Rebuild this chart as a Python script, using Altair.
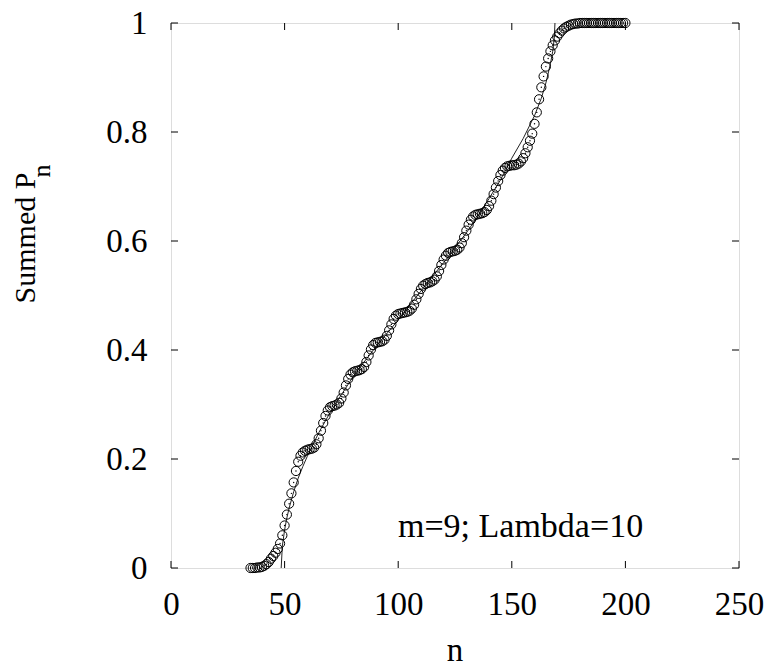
import altair as alt
import pandas as pd

# ---- data ----
n_vals = list(range(35, 201))
p_vals = [
    0.000, 0.000, 0.000, 0.001, 0.001, 0.002, 0.004, 0.007, 0.011, 0.017,   # 35-44
    0.022, 0.028, 0.035, 0.045, 0.060, 0.078, 0.098, 0.118, 0.137, 0.157,   # 45-54
    0.178, 0.195, 0.206, 0.212, 0.215, 0.217, 0.218, 0.219, 0.221, 0.227,   # 55-64
    0.238, 0.252, 0.266, 0.279, 0.289, 0.295, 0.297, 0.298, 0.300, 0.303,   # 65-74
    0.311, 0.322, 0.335, 0.347, 0.355, 0.359, 0.361, 0.362, 0.363, 0.365,   # 75-84
    0.369, 0.378, 0.390, 0.401, 0.409, 0.413, 0.414, 0.415, 0.416, 0.419,   # 85-94
    0.426, 0.436, 0.447, 0.457, 0.463, 0.466, 0.467, 0.468, 0.469, 0.470,   # 95-104
    0.472, 0.476, 0.483, 0.493, 0.503, 0.512, 0.518, 0.521, 0.523, 0.524,   # 105-114
    0.526, 0.529, 0.535, 0.545, 0.556, 0.566, 0.573, 0.578, 0.580, 0.581,   # 115-124
    0.582, 0.584, 0.588, 0.596, 0.607, 0.619, 0.630, 0.639, 0.645, 0.648,   # 125-134
    0.649, 0.650, 0.651, 0.653, 0.657, 0.664, 0.674, 0.686, 0.698, 0.710,   # 135-144
    0.721, 0.729, 0.734, 0.737, 0.738, 0.739, 0.739, 0.740, 0.742, 0.746,   # 145-154
    0.752, 0.761, 0.772, 0.784, 0.797, 0.815, 0.836, 0.860, 0.882, 0.902,   # 155-164
    0.920, 0.935, 0.948, 0.959, 0.968, 0.975, 0.981, 0.986, 0.990, 0.993,   # 165-174
    0.995, 0.997, 0.998, 0.999, 0.999, 1.000, 1.000, 1.000, 1.000, 1.000,   # 175-184
    1.000, 1.000, 1.000, 1.000, 1.000, 1.000, 1.000, 1.000, 1.000, 1.000,   # 185-194
    1.000, 1.000, 1.000, 1.000, 1.000, 1.000,                               # 195-200
]

line_n = [48.5, 49, 50, 51, 52, 54, 56, 58, 60, 65, 70, 75, 80, 85, 90, 95, 100,
          105, 110, 115, 120, 125, 130, 135, 140, 145, 150, 155, 160, 163, 165,
          167, 168, 168.7, 169]
line_p = [0.0, 0.04, 0.07, 0.092, 0.11, 0.14, 0.165, 0.186, 0.205, 0.248, 0.285,
          0.318, 0.35, 0.378, 0.405, 0.43, 0.455, 0.482, 0.508, 0.535, 0.56, 0.588,
          0.615, 0.645, 0.678, 0.712, 0.752, 0.788, 0.83, 0.862, 0.89, 0.925, 0.948,
          0.972, 1.0]

x_ticks = [0, 50, 100, 150, 200, 250]
y_ticks = [0, 0.2, 0.4, 0.6, 0.8, 1.0]

y_title_main = ["Summed P"]
y_title_sub = ["n"]
x_title = ["n"]
annotation = ["m=9; Lambda=10"]

FONT = "Liberation Serif"
W, H = 568, 545

pts = pd.DataFrame({"n": n_vals, "p": p_vals})
ln = pd.DataFrame({"n": line_n, "p": line_p})
xt = pd.DataFrame({"t": x_ticks})
yt = pd.DataFrame({"v": y_ticks})

xscale = alt.Scale(domain=[0, 250], nice=False, zero=False)
yscale = alt.Scale(domain=[0, 1], nice=False, zero=False)

xaxis = alt.Axis(values=x_ticks, title=None, grid=False, domain=False, ticks=False,
                 labelFont=FONT, labelFontSize=33, labelColor="black", labelPadding=20,
                 labelFlush=False)
yaxis = alt.Axis(values=y_ticks, title=None, grid=False, domain=False, ticks=False,
                 labelFont=FONT, labelFontSize=33, labelColor="black", labelPadding=24,
                 format=".1~f", labelFlush=False)

base_line = alt.Chart(ln).mark_line(color="#222222", strokeWidth=1).encode(
    x=alt.X("n:Q", scale=xscale, axis=xaxis),
    y=alt.Y("p:Q", scale=yscale, axis=yaxis),
)

circles = alt.Chart(pts).mark_point(shape="circle", filled=False, color="black",
                                    size=85, strokeWidth=1, opacity=1).encode(
    x=alt.X("n:Q", scale=xscale),
    y=alt.Y("p:Q", scale=yscale),
)
dots = alt.Chart(pts).mark_point(shape="circle", filled=True, color="black",
                                 size=2, opacity=1).encode(
    x=alt.X("n:Q", scale=xscale),
    y=alt.Y("p:Q", scale=yscale),
)

TL = 7
xt_bot = alt.Chart(xt).mark_rule(color="black", strokeWidth=1).encode(
    x=alt.X("t:Q", scale=xscale), y=alt.value(H), y2=alt.value(H - TL))
xt_top = alt.Chart(xt).mark_rule(color="black", strokeWidth=1).encode(
    x=alt.X("t:Q", scale=xscale), y=alt.value(0), y2=alt.value(TL))
yt_left = alt.Chart(yt).mark_rule(color="black", strokeWidth=1).encode(
    y=alt.Y("v:Q", scale=yscale), x=alt.value(0), x2=alt.value(TL))
yt_right = alt.Chart(yt).mark_rule(color="black", strokeWidth=1).encode(
    y=alt.Y("v:Q", scale=yscale), x=alt.value(W), x2=alt.value(W - TL))

ytitle = alt.Chart(pd.DataFrame({"s": y_title_main})).mark_text(
    font=FONT, fontSize=30, angle=270, align="center", baseline="alphabetic",
    color="black").encode(text="s:N", x=alt.value(-136), y=alt.value(215))
ysub = alt.Chart(pd.DataFrame({"s": y_title_sub})).mark_text(
    font=FONT, fontSize=26, angle=270, align="center", baseline="alphabetic",
    color="black").encode(text="s:N", x=alt.value(-121), y=alt.value(148))
xtitle = alt.Chart(pd.DataFrame({"s": x_title})).mark_text(
    font=FONT, fontSize=33, align="center", baseline="alphabetic",
    color="black").encode(text="s:N", x=alt.value(284), y=alt.value(638))
annot = alt.Chart(pd.DataFrame({"s": annotation})).mark_text(
    font=FONT, fontSize=34, align="left", baseline="alphabetic",
    color="black").encode(text="s:N", x=alt.value(227), y=alt.value(514))

chart = alt.layer(
    base_line, circles, dots, xt_bot, xt_top, yt_left, yt_right,
    ytitle, ysub, xtitle, annot
).properties(
    width=W, height=H,
    autosize=alt.AutoSizeParams(type="none"),
    padding={"left": 171, "top": 23, "right": 34, "bottom": 103},
).configure_view(stroke="black", strokeWidth=1.5).configure(background="white")

chart.save("out.html", embed_options={"renderer": "svg", "actions": False})
